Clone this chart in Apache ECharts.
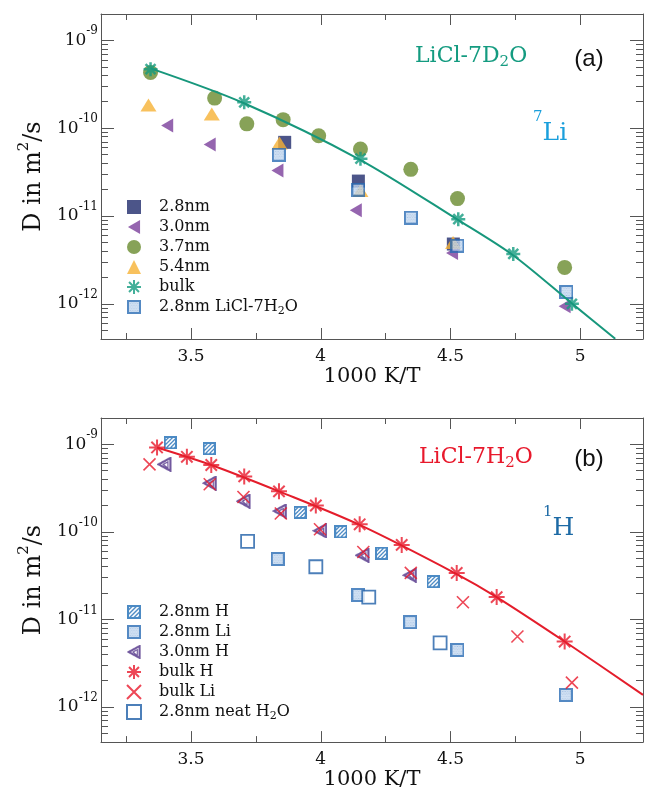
<!DOCTYPE html>
<html>
<head>
<meta charset="utf-8">
<script src="https://cdn.jsdelivr.net/npm/echarts@6/dist/echarts.min.js"></script>
<style>
  html, body { margin: 0; padding: 0; background: #fff; }
  #chart { width: 647px; height: 791px; }
</style>
</head>
<body>
<div id="chart"></div>
<script>
// ---- data: x = 1000 K/T, y = D in m^2/s ----
// panel (a) LiCl-7D2O, 7Li
const a28x = [3.861, 4.145, 4.511];
const a28y = [6.9e-11, 2.5e-11, 4.8e-12];
const a30x = [3.408, 3.572, 3.833, 4.135, 4.506, 4.94];
const a30y = [1.07e-10, 6.5e-11, 3.3e-11, 1.16e-11, 3.8e-12, 9.4e-13];
const a37x = [3.344, 3.591, 3.715, 3.855, 3.992, 4.153, 4.347, 4.527, 4.94];
const a37y = [4.3e-10, 2.2e-10, 1.12e-10, 1.25e-10, 8.2e-11, 5.8e-11, 3.4e-11, 1.58e-11, 2.6e-12];
const a54x = [3.336, 3.58, 3.841, 4.153, 4.51];
const a54y = [1.84e-10, 1.45e-10, 6.8e-11, 1.95e-11, 5.0e-12];
const aBulkx = [3.344, 3.705, 4.153, 4.53, 4.742, 4.968];
const aBulky = [4.7e-10, 1.97e-10, 4.5e-11, 9.2e-12, 3.7e-12, 1.0e-12];
const aH2Ox = [3.838, 4.145, 4.347, 4.527, 4.947];
const aH2Oy = [5.0e-11, 2.0e-11, 9.6e-12, 4.6e-12, 1.36e-12];
const aFitx = [3.344, 3.70, 4.15, 4.53, 4.74, 4.97, 5.135];
const aFity = [4.8e-10, 1.95e-10, 4.4e-11, 9.0e-12, 3.6e-12, 1.0e-12, 4.0e-13];

// panel (b) LiCl-7H2O, 1H
const b28Hx = [3.42, 3.57, 3.92, 4.078, 4.234, 4.433];
const b28Hy = [1.04e-9, 8.9e-10, 1.67e-10, 1.0e-10, 5.7e-11, 2.7e-11];
const b28Lix = [3.834, 4.145, 4.345, 4.527, 4.944];
const b28Liy = [4.9e-11, 1.9e-11, 9.3e-12, 4.5e-12, 1.38e-12];
const b30Hx = [3.397, 3.572, 3.702, 3.842, 3.997, 4.16, 4.343];
const b30Hy = [5.9e-10, 3.6e-10, 2.24e-10, 1.73e-10, 1.03e-10, 5.4e-11, 3.2e-11];
const bBulkHx = [3.369, 3.484, 3.578, 3.705, 3.839, 3.981, 4.15, 4.312, 4.524, 4.678, 4.94];
const bBulkHy = [9.2e-10, 7.2e-10, 5.8e-10, 4.3e-10, 2.9e-10, 2.0e-10, 1.22e-10, 7.1e-11, 3.4e-11, 1.8e-11, 5.6e-12];
const bBulkLix = [3.34, 3.572, 3.702, 3.846, 3.997, 4.164, 4.347, 4.548, 4.758, 4.968];
const bBulkLiy = [5.9e-10, 3.5e-10, 2.5e-10, 1.62e-10, 1.07e-10, 5.9e-11, 3.4e-11, 1.57e-11, 6.4e-12, 1.9e-12];
const bNeatx = [3.718, 3.981, 4.185, 4.46];
const bNeaty = [7.8e-11, 4.0e-11, 1.8e-11, 5.4e-12];
const bFitx = [3.369, 3.578, 3.839, 4.15, 4.524, 4.678, 4.94, 5.242];
const bFity = [9.2e-10, 5.8e-10, 2.9e-10, 1.2e-10, 3.3e-11, 1.8e-11, 5.6e-12, 1.38e-12];

// ticks
const xMajor = [3.5, 4, 4.5, 5];
const xMinor = [3.25, 3.75, 4.25, 4.75];
const yDecades = [-12, -11, -10, -9];   // exponents of 10
const yMultipliers = [2, 3, 4, 5, 6, 7, 8, 9];

const X_MIN = 3.153, X_MAX = 5.242;
const Y_MIN = -12.4, Y_MAX = -8.7;

const SERIF = 'DejaVu Serif';
const AX = '#555';
const TXT = '#111';

const yMinor = [];
[-13, -12, -11, -10, -9].forEach(d => yMultipliers.forEach(k => yMinor.push(d + Math.log10(k))));

// marker images drawn on canvas
function markerImg(size, draw) {
  const c = document.createElement('canvas');
  c.width = c.height = size;
  draw(c.getContext('2d'), size);
  return 'image://' + c.toDataURL();
}
const dotSquare = markerImg(42, (ctx, s) => {
  ctx.fillStyle = '#c5d9f0';
  ctx.fillRect(0, 0, s, s);
  ctx.fillStyle = '#8cb0dc';
  for (let i = 0; i < s; i += 5) {
    for (let j = 0; j < s; j += 5) {
      ctx.fillRect(i + ((j / 5) % 2) * 2.5, j, 2, 2);
    }
  }
  ctx.strokeStyle = '#2a6cb5';
  ctx.lineWidth = 6;
  ctx.strokeRect(3, 3, s - 6, s - 6);
});
const hatchSquare = markerImg(42, (ctx, s) => {
  ctx.fillStyle = '#1f6db6';
  ctx.fillRect(0, 0, s, s);
  ctx.strokeStyle = '#fff';
  ctx.lineWidth = 5;
  ctx.beginPath();
  for (let k = -s; k < 2 * s; k += 13) {
    ctx.moveTo(k, s);
    ctx.lineTo(k + s, 0);
  }
  ctx.stroke();
  ctx.strokeStyle = '#1f6db6';
  ctx.lineWidth = 6;
  ctx.strokeRect(3, 3, s - 6, s - 6);
});
const openTri = markerImg(42, (ctx, s) => {
  ctx.strokeStyle = '#4e2f86';
  ctx.lineJoin = 'miter';
  ctx.lineWidth = 6;
  ctx.beginPath();
  ctx.moveTo(5, 21); ctx.lineTo(38, 3); ctx.lineTo(38, 39); ctx.closePath();
  ctx.stroke();
  ctx.lineWidth = 3.5;
  ctx.beginPath();
  ctx.moveTo(18, 21); ctx.lineTo(31, 14); ctx.lineTo(31, 32); ctx.closePath();
  ctx.stroke();
});

const leftTri = 'path://M0,1L1.732,0L1.732,2Z';
const star = 'path://M0,-1L0,1M-1,0L1,0M-0.71,-0.71L0.71,0.71M-0.71,0.71L0.71,-0.71';
const cross = 'path://M0,0L2,2M0,2L2,0';

const pts = (xs, ys) => xs.map((x, i) => [x, Math.log10(ys[i])]);

function xAxes(g) {
  const base = {
    gridIndex: g, type: 'value', min: X_MIN, max: X_MAX,
    splitLine: { show: false }, axisLabel: { show: false },
    axisLine: { show: false, onZero: false }
  };
  const line = { show: true, onZero: false, lineStyle: { color: AX, width: 1 } };
  const tick = (vals, len) => ({ show: true, inside: true, length: len, customValues: vals, lineStyle: { color: AX, width: 1 } });
  return [
    Object.assign({}, base, {
      position: 'bottom', axisLine: line, axisTick: tick(xMajor, 11),
      axisLabel: {
        show: true, customValues: xMajor, margin: 9,
        formatter: v => String(v),
        fontFamily: SERIF, fontSize: 17, color: TXT
      },
      name: '1000 K/T', nameLocation: 'middle', nameGap: 25,
      nameTextStyle: { fontFamily: SERIF, fontSize: 21, color: TXT }
    }),
    Object.assign({}, base, { position: 'bottom', axisTick: tick(xMinor, 6) }),
    Object.assign({}, base, { position: 'top', axisLine: line, axisTick: tick(xMajor, 11) }),
    Object.assign({}, base, { position: 'top', axisTick: tick(xMinor, 6) })
  ];
}

function yAxes(g) {
  const base = {
    gridIndex: g, type: 'value', min: Y_MIN, max: Y_MAX,
    splitLine: { show: false }, axisLabel: { show: false },
    axisLine: { show: false, onZero: false }
  };
  const line = { show: true, onZero: false, lineStyle: { color: AX, width: 1 } };
  const tick = (vals, len) => ({ show: true, inside: true, length: len, customValues: vals, lineStyle: { color: AX, width: 1 } });
  return [
    Object.assign({}, base, {
      position: 'left', axisLine: line, axisTick: tick(yDecades, 13),
      axisLabel: {
        show: true, customValues: yDecades, margin: 3,
        formatter: v => '{b|10}{sup|' + v + '}',
        rich: {
          b: { fontFamily: SERIF, fontSize: 17, lineHeight: 30, color: TXT },
          sup: { fontFamily: SERIF, fontSize: 12, lineHeight: 12, verticalAlign: 'top', color: TXT }
        }
      },
      name: '{n|D in m}{sup|2}{n|/s}', nameLocation: 'middle', nameGap: 48, nameRotate: 90,
      nameTextStyle: {
        rich: {
          n: { fontFamily: SERIF, fontSize: 24, lineHeight: 36, color: TXT },
          sup: { fontFamily: SERIF, fontSize: 15, lineHeight: 15, verticalAlign: 'top', color: TXT }
        }
      }
    }),
    Object.assign({}, base, { position: 'left', axisTick: tick(yMinor, 7) }),
    Object.assign({}, base, { position: 'right', axisLine: line, axisTick: tick(yDecades, 13) }),
    Object.assign({}, base, { position: 'right', axisTick: tick(yMinor, 7) })
  ];
}

function scatter(name, g, xs, ys, opts) {
  return Object.assign({
    type: 'scatter', name: name, xAxisIndex: 4 * g, yAxisIndex: 4 * g,
    data: pts(xs, ys)
  }, opts);
}
function fit(g, xs, ys, color) {
  return {
    type: 'line', xAxisIndex: 4 * g, yAxisIndex: 4 * g, data: pts(xs, ys),
    showSymbol: false, smooth: 0.3, silent: true,
    lineStyle: { color: color, width: 2 }
  };
}

const legendFmt = name => {
  const parts = name.split('H2O');
  if (parts.length === 2) return '{p|' + parts[0] + 'H}{s|2}{n|O' + parts[1] + '}';
  return '{p|' + name + '}';
};
const legendRich = {
  p: { fontFamily: SERIF, fontSize: 16, lineHeight: 20, color: TXT, padding: [0, 0, 0, 13] },
  n: { fontFamily: SERIF, fontSize: 16, lineHeight: 20, color: TXT },
  s: { fontFamily: SERIF, fontSize: 11, lineHeight: 10, verticalAlign: 'bottom', color: TXT }
};
function legend(top, names) {
  return {
    orient: 'vertical', left: 126, top: top, padding: 0,
    itemWidth: 14, itemHeight: 14, itemGap: 4,
    data: names, formatter: legendFmt, selectedMode: false,
    textStyle: { rich: legendRich }
  };
}

const namesA = ['2.8nm', '3.0nm', '3.7nm', '5.4nm', 'bulk', '2.8nm LiCl-7H2O'];
const namesB = ['2.8nm H', '2.8nm Li', '3.0nm H', 'bulk H', 'bulk Li', '2.8nm neat H2O'];

const titleText = (x, text, y, color, size, rich) => ({
  type: 'text', x: x, y: y,
  style: { text: text, fill: color, fontFamily: SERIF, fontSize: size, verticalAlign: 'middle', rich: rich }
});

const chart = echarts.init(document.getElementById('chart'), null, { renderer: 'canvas' });
chart.setOption({
  animation: false,
  backgroundColor: '#fff',
  grid: [
    { left: 101, right: 4, top: 14, height: 325 },
    { left: 101, right: 4, top: 418, height: 325 }
  ],
  xAxis: xAxes(0).concat(xAxes(1)),
  yAxis: yAxes(0).concat(yAxes(1)),
  legend: [legend(199, namesA), legend(604, namesB)],
  series: [
    fit(0, aFitx, aFity, '#17977c'),
    scatter('2.8nm', 0, a28x, a28y, { symbol: 'rect', symbolSize: 13, itemStyle: { color: '#1f2a6b' } }),
    scatter('3.0nm', 0, a30x, a30y, { symbol: leftTri, symbolSize: [12, 14], itemStyle: { color: '#7b3e9b' } }),
    scatter('3.7nm', 0, a37x, a37y, { symbol: 'circle', symbolSize: 15, itemStyle: { color: '#698b2e' } }),
    scatter('5.4nm', 0, a54x, a54y, { symbol: 'triangle', symbolSize: [16, 13], itemStyle: { color: '#f6b235' } }),
    scatter('bulk', 0, aBulkx, aBulky, { symbol: star, symbolSize: 14, itemStyle: { color: '#149b80', borderColor: '#149b80', borderWidth: 2.5 } }),
    scatter('2.8nm LiCl-7H2O', 0, aH2Ox, aH2Oy, { symbol: dotSquare, symbolSize: 14 }),

    fit(1, bFitx, bFity, '#e41d2b'),
    scatter('2.8nm H', 1, b28Hx, b28Hy, { symbol: hatchSquare, symbolSize: 13 }),
    scatter('2.8nm Li', 1, b28Lix, b28Liy, { symbol: dotSquare, symbolSize: 14 }),
    scatter('3.0nm H', 1, b30Hx, b30Hy, { symbol: openTri, symbolSize: 15 }),
    scatter('bulk H', 1, bBulkHx, bBulkHy, { symbol: star, symbolSize: 16, itemStyle: { color: '#e8192c', borderColor: '#e8192c', borderWidth: 2 } }),
    scatter('bulk Li', 1, bBulkLix, bBulkLiy, { symbol: cross, symbolSize: 12, itemStyle: { color: '#e8192c', borderColor: '#e8192c', borderWidth: 1.6 } }),
    scatter('2.8nm neat H2O', 1, bNeatx, bNeaty, { symbol: 'rect', symbolSize: 13, itemStyle: { color: '#fff', borderColor: '#1f5fa8', borderWidth: 1.8 } })
  ],
  graphic: [
    titleText(415, '{n|LiCl-7D}{s|2}{n|O}', 56, '#149b80', 22, {
      n: { fontFamily: SERIF, fontSize: 22, lineHeight: 28, fill: '#149b80' },
      s: { fontFamily: SERIF, fontSize: 15, lineHeight: 12, verticalAlign: 'bottom', fill: '#149b80' }
    }),
    { type: 'text', x: 589, y: 59, style: { text: '(a)', fill: TXT, fontFamily: 'Liberation Sans', fontSize: 24, align: 'center', verticalAlign: 'middle' } },
    titleText(533, '{sup|7}{n|Li}', 133, '#1a9fdc', 25, {
      n: { fontFamily: SERIF, fontSize: 25, lineHeight: 46, fill: '#1a9fdc' },
      sup: { fontFamily: SERIF, fontSize: 15, lineHeight: 17, verticalAlign: 'top', fill: '#1a9fdc' }
    }),
    titleText(419, '{n|LiCl-7H}{s|2}{n|O}', 457, '#e8192c', 22, {
      n: { fontFamily: SERIF, fontSize: 22, lineHeight: 28, fill: '#e8192c' },
      s: { fontFamily: SERIF, fontSize: 15, lineHeight: 12, verticalAlign: 'bottom', fill: '#e8192c' }
    }),
    { type: 'text', x: 589, y: 459, style: { text: '(b)', fill: TXT, fontFamily: 'Liberation Sans', fontSize: 24, align: 'center', verticalAlign: 'middle' } },
    titleText(543, '{sup|1}{n|H}', 528, '#1d6aa5', 25, {
      n: { fontFamily: SERIF, fontSize: 25, lineHeight: 46, fill: '#1d6aa5' },
      sup: { fontFamily: SERIF, fontSize: 15, lineHeight: 17, verticalAlign: 'top', fill: '#1d6aa5' }
    })
  ]
});
</script>
</body>
</html>
